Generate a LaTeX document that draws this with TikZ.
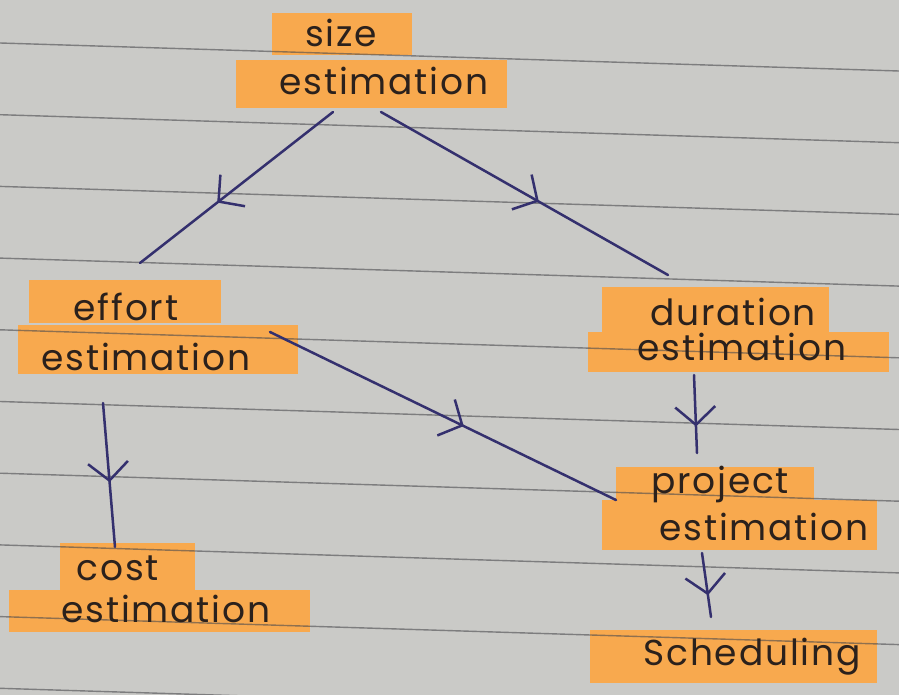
\documentclass[tikz,border=0pt]{standalone}
\usepackage{fontspec}
\setmainfont{Poppins}
\usetikzlibrary{arrows.meta,decorations.markings}
\definecolor{paper}{HTML}{CACAC7}
\definecolor{rulecol}{HTML}{4A4A4E}
\definecolor{hl}{HTML}{F8A94E}
\definecolor{ink}{HTML}{34306E}
\definecolor{pen}{HTML}{2B211C}
\tikzset{
  hlbox/.style={fill=hl, draw=none, inner sep=0pt, outer sep=0pt},
  word/.style={anchor=base, inner sep=0pt, text=pen, font=\fontsize{36}{36}\selectfont\addfontfeature{LetterSpace=5}},
  ruling/.style={draw=rulecol, draw opacity=0.6, line width=1.4pt},
  flow/.style={draw=ink, line width=2.5pt, line cap=round, postaction={decorate},
    decoration={markings, mark=at position #1 with {\arrow{Straight Barb[length=18pt, width=40pt, line width=2.5pt]}}}},
}
\begin{document}
\begin{tikzpicture}[x=1pt, y=-1pt]
\useasboundingbox (0,0) rectangle (899,695);
\fill[paper] (0,0) rectangle (899,695);
% highlight boxes
\node[hlbox, minimum width=140pt, minimum height=42pt] (sizeA) at (342,34) {};
\node[hlbox, minimum width=271pt, minimum height=48pt] (sizeB) at (371.5,84) {};
\node[hlbox, minimum width=192pt, minimum height=43pt] (effA) at (125,301.5) {};
\node[hlbox, minimum width=280pt, minimum height=49pt] (effB) at (158,349.5) {};
\node[hlbox, minimum width=227pt, minimum height=46pt] (durA) at (715.5,310) {};
\node[hlbox, minimum width=301pt, minimum height=40pt] (durB) at (738.5,352) {};
\node[hlbox, minimum width=198pt, minimum height=35pt] (projA) at (715,484.5) {};
\node[hlbox, minimum width=275pt, minimum height=50pt] (projB) at (739.5,525) {};
\node[hlbox, minimum width=287pt, minimum height=53pt] (schedB) at (733.5,656.5) {};
\node[hlbox, minimum width=135pt, minimum height=47pt] (costA) at (127.5,566.5) {};
\node[hlbox, minimum width=301pt, minimum height=42pt] (costB) at (159.5,611) {};
% notebook rules (seen through the highlighter)
\foreach \k in {-1,...,9} {
  \draw[ruling] (0,{43+71.7*\k}) -- (899,{71+71.7*\k});
}
% texts
\node[word] (tSize) at (341,47) {size};
\node[word] (tSizeE) at (384,95) {estimation};
\node[word] (tEff) at (126,320) {effort};
\node[word] (tEffE) at (146,370) {estimation};
\node[word] (tDur) at (733,325) {duration};
\node[word] (tDurE) at (742,360) {estimation};
\node[word] (tProj) at (720,493) {project};
\node[word] (tProjE) at (764,540) {estimation};
\node[word] (tCost) at (118,580) {cost};
\node[word] (tCostE) at (166,622) {estimation};
\node[word] (tSched) at (752,665) {Scheduling};
% connector ends
\coordinate (s1) at (333,112);
\coordinate (e1) at (140,263);
\coordinate (s2) at (381,112);
\coordinate (e2) at (668,275);
\coordinate (s3) at (270,332);
\coordinate (e3) at (616,500);
\coordinate (s4) at (694,375);
\coordinate (e4) at (697,453);
\coordinate (s5) at (702,553);
\coordinate (e5) at (711,617);
\coordinate (s6) at (103,403);
\coordinate (e6) at (115,547);
\draw[flow=0.6] (s1) -- (e1);
\draw[flow=0.55] (s2) -- (e2);
\draw[flow=0.56] (s3) -- (e3);
\draw[flow=0.66] (s4) -- (e4);
\draw[flow=0.66] (s5) -- (e5);
\draw[flow=0.55] (s6) -- (e6);
\end{tikzpicture}
\end{document}
